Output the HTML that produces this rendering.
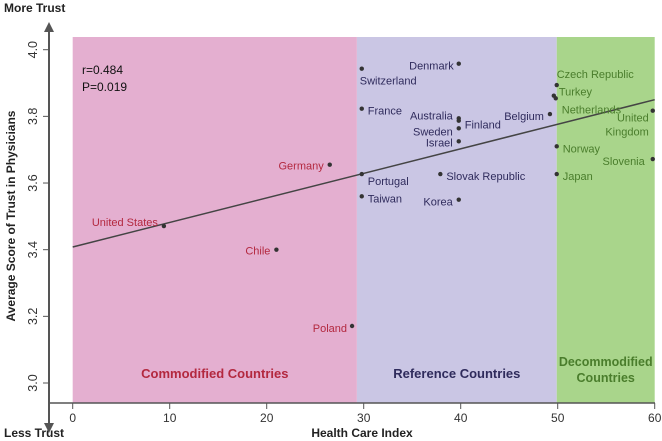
<!DOCTYPE html>
<html><head><meta charset="utf-8"><style>
body{margin:0;background:#fff;}
svg{display:block;font-family:"Liberation Sans",sans-serif;}
</style></head><body>
<svg id="chart" width="662" height="441" viewBox="0 0 662 441" xmlns="http://www.w3.org/2000/svg">
<g id="bands"></g>
<g id="axes"></g>
<g id="marks"></g>
</svg>
<script>
const countries=["United States","Chile","Germany","Poland","Switzerland","Denmark","France","Australia","Finland","Sweden","Israel","Portugal","Slovak Republic","Taiwan","Korea","Belgium","Czech Republic","Turkey","Netherlands","United Kingdom","Norway","Slovenia","Japan"];
const hcIndex=[9.4,21,26.5,28.8,29.8,39.8,29.8,39.8,39.8,39.8,39.8,29.8,37.9,29.8,39.8,49.2,49.9,49.6,49.8,59.8,49.9,59.8,49.9];
const trustScore=[3.471,3.40,3.655,3.171,3.943,3.958,3.823,3.794,3.787,3.764,3.725,3.627,3.627,3.56,3.55,3.807,3.894,3.862,3.854,3.817,3.71,3.672,3.627];
const groups=[0,0,0,0,1,1,1,1,1,1,1,1,1,1,1,1,2,2,2,2,2,2,2];
const xTicks=[0,10,20,30,40,50,60];
const yTicks=[3.0,3.2,3.4,3.6,3.8,4.0];
const bandEdges=[0,29.3,49.9,60];
const bandNames=["Commodified Countries","Reference Countries","Decommodified Countries"];
const regression=[3.408,3.85];
// label placement (layout, not data): [dx,dy,anchor]
const lab=[[-6,-3,"end"],[-6,2,"end"],[-6,2,"end"],[-5,3,"end"],[-2,13,"start"],[-5,3,"end"],[6,3,"start"],[-6,-2,"end"],[6,5,"start"],[-6,4,"end"],[-6,2,"end"],[6,8,"start"],[6,3,"start"],[6,3,"start"],[-6,3,"end"],[-6,3,"end"],[0,-10,"start"],[5,-3,"start"],[6,12,"start"],[-4,8,"end"],[6,3,"start"],[-8,3,"end"],[6,3,"start"]];
const X=v=>72.7+v*9.7, Y=v=>383-(v-3)*333.3;
const NS="http://www.w3.org/2000/svg";
function mk(parent,tag,attrs,text){const e=document.createElementNS(NS,tag);for(const k in attrs)e.setAttribute(k,attrs[k]);if(text!==undefined)e.textContent=text;document.getElementById(parent).appendChild(e);return e;}
const bandFill=["#e4afd0","#cac6e4","#a9d58b"], bandText=["#b3283f","#2f2b5c","#4a7d2c"];
for(let i=0;i<3;i++){
 const r=mk("bands","rect",{x:X(bandEdges[i]),y:37,width:X(bandEdges[i+1])-X(bandEdges[i]),height:366,fill:bandFill[i]});
 
 
 const cx=(X(bandEdges[i])+X(bandEdges[i+1]))/2;
 const words=bandNames[i];
 if(i<2){const t=mk("bands","text",{x:cx,y:378,"text-anchor":"middle","font-size":13,"font-weight":"bold",fill:bandText[i]},words);
  }
 else{const t=mk("bands","text",{x:cx,y:366,"text-anchor":"middle","font-size":12.5,"font-weight":"bold",fill:bandText[i]});
  
  const a=document.createElementNS(NS,"tspan");a.setAttribute("x",cx);a.textContent="Decommodified";t.appendChild(a);
  const b=document.createElementNS(NS,"tspan");b.setAttribute("x",cx);b.setAttribute("dy","16");b.textContent="Countries";t.appendChild(b);}
}
let e=mk("axes","line",{x1:49,y1:403,x2:655,y2:403,stroke:"#555","stroke-width":1.5});

e=mk("axes","line",{x1:49,y1:30,x2:49,y2:425,stroke:"#555","stroke-width":2});

e=mk("axes","path",{d:"M44,32 L49,22 L54,32 Z M44,423 L49,433 L54,423 Z",fill:"#555"});

xTicks.forEach(v=>{
 mk("axes","line",{x1:X(v),y1:403,x2:X(v),y2:409,stroke:"#555"});
 const t=mk("axes","text",{x:X(v),y:422,"text-anchor":"middle","font-size":12,fill:"#333"},v);
 
});
yTicks.forEach(v=>{
 mk("axes","line",{x1:43,y1:Y(v),x2:49,y2:Y(v),stroke:"#555"});
 const t=mk("axes","text",{x:0,y:0,"text-anchor":"middle","font-size":12.5,fill:"#333",transform:`translate(37,${Y(v)}) rotate(-90)`},v.toFixed(1));
 
});
e=mk("axes","text",{x:0,y:0,"text-anchor":"middle","font-size":12,"font-weight":"bold",fill:"#222",transform:"translate(15,216) rotate(-90)"},"Average Score of Trust in Physicians");

e=mk("axes","text",{x:362,y:437,"text-anchor":"middle","font-size":12,"font-weight":"bold",fill:"#222"},"Health Care Index");

e=mk("axes","text",{x:4,y:12,"font-size":12,"font-weight":"bold",fill:"#222"},"More Trust");

e=mk("axes","text",{x:4,y:437,"font-size":12,"font-weight":"bold",fill:"#222"},"Less Trust");

e=mk("axes","text",{x:82,y:74,"font-size":12,fill:"#111"},"r=0.484");

e=mk("axes","text",{x:82,y:91,"font-size":12,fill:"#111"},"P=0.019");

e=mk("marks","line",{x1:X(0),y1:Y(regression[0]),x2:X(60),y2:Y(regression[1]),stroke:"#444","stroke-width":1.5});

countries.forEach((c,i)=>{
 const cx=X(hcIndex[i]),cy=Y(trustScore[i]);
 const d=mk("marks","circle",{cx:cx,cy:cy,r:2.2,fill:"#333"});
 
 
 const L=lab[i];
 const t=mk("marks","text",{x:cx+L[0],y:cy+L[1]+3,"text-anchor":L[2],"font-size":11,fill:bandText[groups[i]]});
 
 
 if(c==="United Kingdom"){
  const a=document.createElementNS(NS,"tspan");a.setAttribute("x",cx+L[0]);a.textContent="United";t.appendChild(a);
  const b=document.createElementNS(NS,"tspan");b.setAttribute("x",cx+L[0]);b.setAttribute("dy","14");b.textContent="Kingdom";t.appendChild(b);
 } else t.textContent=c;
});
</script>
</body></html>
